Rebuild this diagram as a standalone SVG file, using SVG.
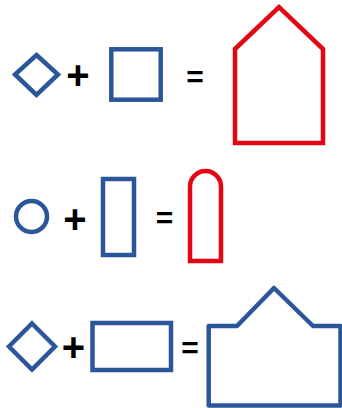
<svg xmlns="http://www.w3.org/2000/svg" width="342" height="408" viewBox="0 0 342 408">
<style>
.b{fill:none;stroke:#2B579A;stroke-width:4.5;stroke-linejoin:miter}
.r{fill:none;stroke:#E30613;stroke-width:4.5;stroke-linejoin:miter}
.op{font-family:"Liberation Sans",Arial,sans-serif;font-weight:bold;fill:#000;text-anchor:middle}
.pl{font-size:40px}
.eq{font-size:30px}
</style>
<rect width="342" height="408" fill="#fff"/>
<g id="row1">
<g id="diamond1"><polygon class="b" points="36.5,55 58,74.5 36.5,95 15,74.5"/></g>
<g id="plus1"><text class="op pl" x="78" y="89">+</text></g>
<g id="square1"><rect class="b" x="111.3" y="49.3" width="49.4" height="50.4"/></g>
<g id="eq1"><text class="op eq" x="195" y="87">=</text></g>
<g id="house1"><polygon class="r" points="235,49 279,7 323,49 323,143 235,143"/></g>
</g>
<g id="row2">
<g id="circle2"><circle class="b" cx="31.5" cy="216.5" r="15.5"/></g>
<g id="plus2"><text class="op pl" x="75" y="233">+</text></g>
<g id="rect2"><rect class="b" x="103" y="179" width="31" height="76"/></g>
<g id="eq2"><text class="op eq" x="164.5" y="227.5">=</text></g>
<g id="arch2"><path class="r" d="M190,261 V186.5 A15.5,15.5 0 0 1 221,186.5 V261 Z"/></g>
</g>
<g id="row3">
<g id="diamond3"><polygon class="b" points="32,323.5 55,346.5 32,369.5 9,346.5"/></g>
<g id="plus3"><text class="op pl" x="73.5" y="360.5">+</text></g>
<g id="rect3"><rect class="b" x="92.5" y="323" width="78.5" height="47"/></g>
<g id="eq3"><text class="op eq" x="190" y="357.5">=</text></g>
<g id="house3"><path class="b" style="stroke-linejoin:round" d="M208.7,326 H237 L274,288 L313,326 H340.5 V405.5 H208.7 Z"/></g>
</g>
</svg>
